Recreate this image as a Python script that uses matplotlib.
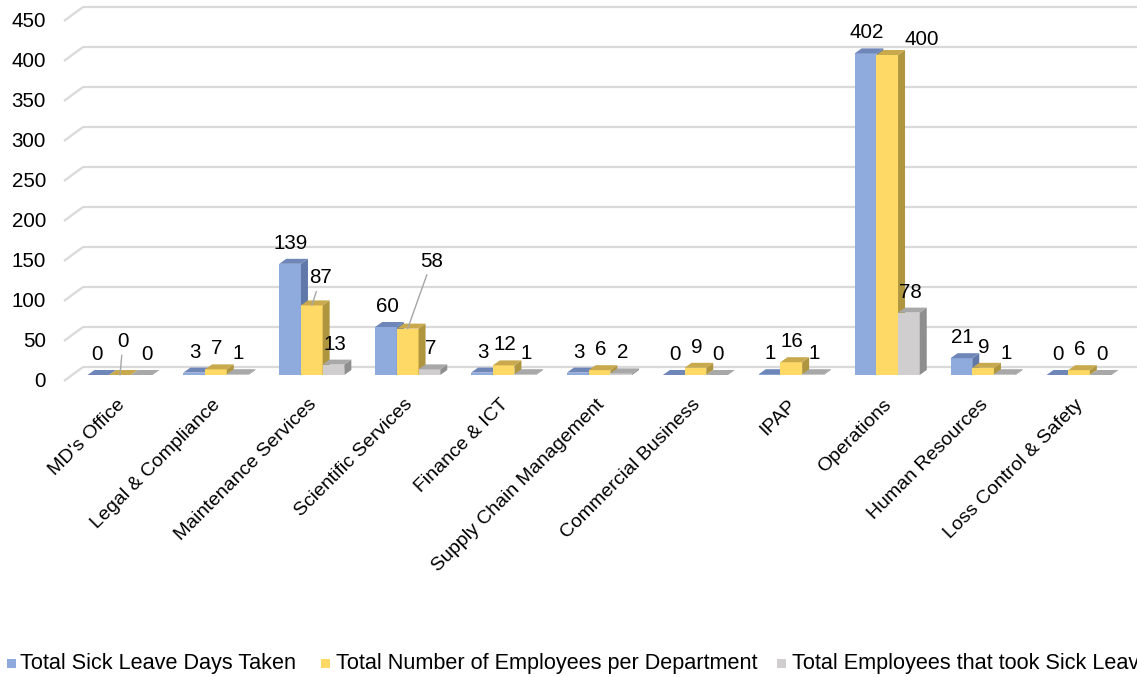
import matplotlib
matplotlib.use("Agg")
import matplotlib.pyplot as plt
from matplotlib.patches import Polygon, Rectangle

# ---- data -------------------------------------------------------------
departments = [
    "MD's Office", "Legal & Compliance", "Maintenance Services",
    "Scientific Services", "Finance & ICT", "Supply Chain Management",
    "Commercial Business", "IPAP", "Operations", "Human Resources",
    "Loss Control & Safety",
]
sick_days = [0, 3, 139, 60, 3, 3, 0, 1, 402, 21, 0]
employees = [0, 7, 87, 58, 12, 6, 9, 16, 400, 9, 6]
took_leave = [0, 1, 13, 7, 1, 2, 0, 1, 78, 1, 0]
series_names = [
    "Total Sick Leave Days Taken",
    "Total Number of Employees per Department",
    "Total Employees that took Sick Leave",
]
y_ticks = [0, 50, 100, 150, 200, 250, 300, 350, 400, 450]

# ---- style ------------------------------------------------------------
FONT = "Liberation Sans"
plt.rcParams["font.family"] = [FONT, "DejaVu Sans"]
front_colors = ["#8FAADC", "#FFD966", "#D0CECE"]
top_colors = ["#6E87B8", "#C9A94E", "#A8A8A8"]
side_colors = ["#5F78A8", "#B0953F", "#8E8E8E"]
grid_color = "#D9D9D9"

W, H = 1137, 677
fig = plt.figure(figsize=(W / 100, H / 100), dpi=100)
ax = fig.add_axes([0, 0, 1, 1])
ax.axis("off")

# axis scales: one category step = 95.9 px, one value unit = 0.8 px
STEP_PX = 95.9
UNIT_PX = 0.8
X0_PX = 120.0          # first category centre
Y0_PX = 367.0          # zero level of the back wall (from top)
PX = 1.0 / STEP_PX     # category units per pixel
PY = 1.0 / UNIT_PX     # value units per pixel

ax.set_xlim(-X0_PX * PX, (W - X0_PX) * PX)
ax.set_ylim((Y0_PX - H) * PY, Y0_PX * PY)

# ---- back wall gridlines with floor perspective --------------------------
grid_x0 = (83 - X0_PX) * PX
for v in y_ticks:
    ax.plot([grid_x0, (W - X0_PX) * PX], [v, v], color=grid_color, lw=1.6,
            solid_capstyle="butt", zorder=1)
    ax.plot([grid_x0 - 19 * PX, grid_x0], [v - 14 * PY, v], color=grid_color,
            lw=1.6, solid_capstyle="butt", zorder=1)
    ax.text((46 - X0_PX) * PX, v - 20 * PY, str(v), ha="right", va="baseline",
            fontsize=14.8, color="black")

# ---- 3-D columns ------------------------------------------------------
BW = 21.7 * PX         # column width
DX = 7 * PX            # depth, horizontal
DY = 5 * PY            # depth, vertical
BASE = -8 * PY         # front face sits lower than the back wall

series = [sick_days, employees, took_leave]
centers = []
for k, vals in enumerate(series):
    xs = [i + (k - 1) * BW for i in range(len(departments))]
    centers.append(xs)
    ax.bar(xs, vals, width=BW, bottom=BASE, color=front_colors[k],
           linewidth=0, zorder=2 + k)
    for x, v in zip(xs, vals):
        x0, x1 = x - BW / 2, x + BW / 2
        t = BASE + v
        ax.add_patch(Polygon([(x1, BASE), (x1 + DX, BASE + DY),
                              (x1 + DX, t + DY), (x1, t)], closed=True,
                             facecolor=side_colors[k], linewidth=0,
                             zorder=2 + k + 0.1))
        ax.add_patch(Polygon([(x0, t), (x1, t), (x1 + DX, t + DY),
                              (x0 + DX, t + DY)], closed=True,
                             facecolor=top_colors[k], linewidth=0,
                             zorder=2 + k + 0.2))

# ---- data labels ------------------------------------------------------
# (series, category) -> label offset in pixels, plus whether it has a leader
label_moves = {
    (0, 0): (-1, 15, False),
    (1, 0): (3, 28, True),
    (2, 0): (5, 15, False),
    (1, 2): (9, 22, True),
    (1, 3): (24, 62, True),
    (1, 8): (35, 10, False),
}
for k, vals in enumerate(series):
    for i, v in enumerate(vals):
        dx, dy, leader = label_moves.get((k, i), (1, 15, False))
        kw = {}
        if leader:
            kw["arrowprops"] = dict(arrowstyle="-", color="#A6A6A6", lw=1.0,
                                    shrinkA=1, shrinkB=0)
        ax.annotate(str(v), xy=(centers[k][i], BASE + v),
                    xytext=(dx, dy), textcoords="offset pixels",
                    ha="center", va="baseline", fontsize=14.8,
                    color="black", zorder=10, **kw)

# ---- category labels --------------------------------------------------
for i, name in enumerate(departments):
    ax.text(i - 4 * PX, (Y0_PX - 396) * PY, name, rotation=45,
            rotation_mode="anchor", ha="right", va="top", fontsize=14,
            color="black")

# ---- legend -----------------------------------------------------------
legend_y = 663
marker_x = [7, 321, 777]
text_x = [20, 336, 792]
for k, name in enumerate(series_names):
    fig.patches.append(Rectangle((marker_x[k] / W, (H - legend_y - 4.5) / H),
                                 9 / W, 9 / H, transform=fig.transFigure,
                                 facecolor=front_colors[k], linewidth=0))
    fig.text(text_x[k] / W, (H - legend_y) / H, name, ha="left",
             va="center", fontsize=15.6, color="black")

fig.savefig("out.png", dpi=100)
